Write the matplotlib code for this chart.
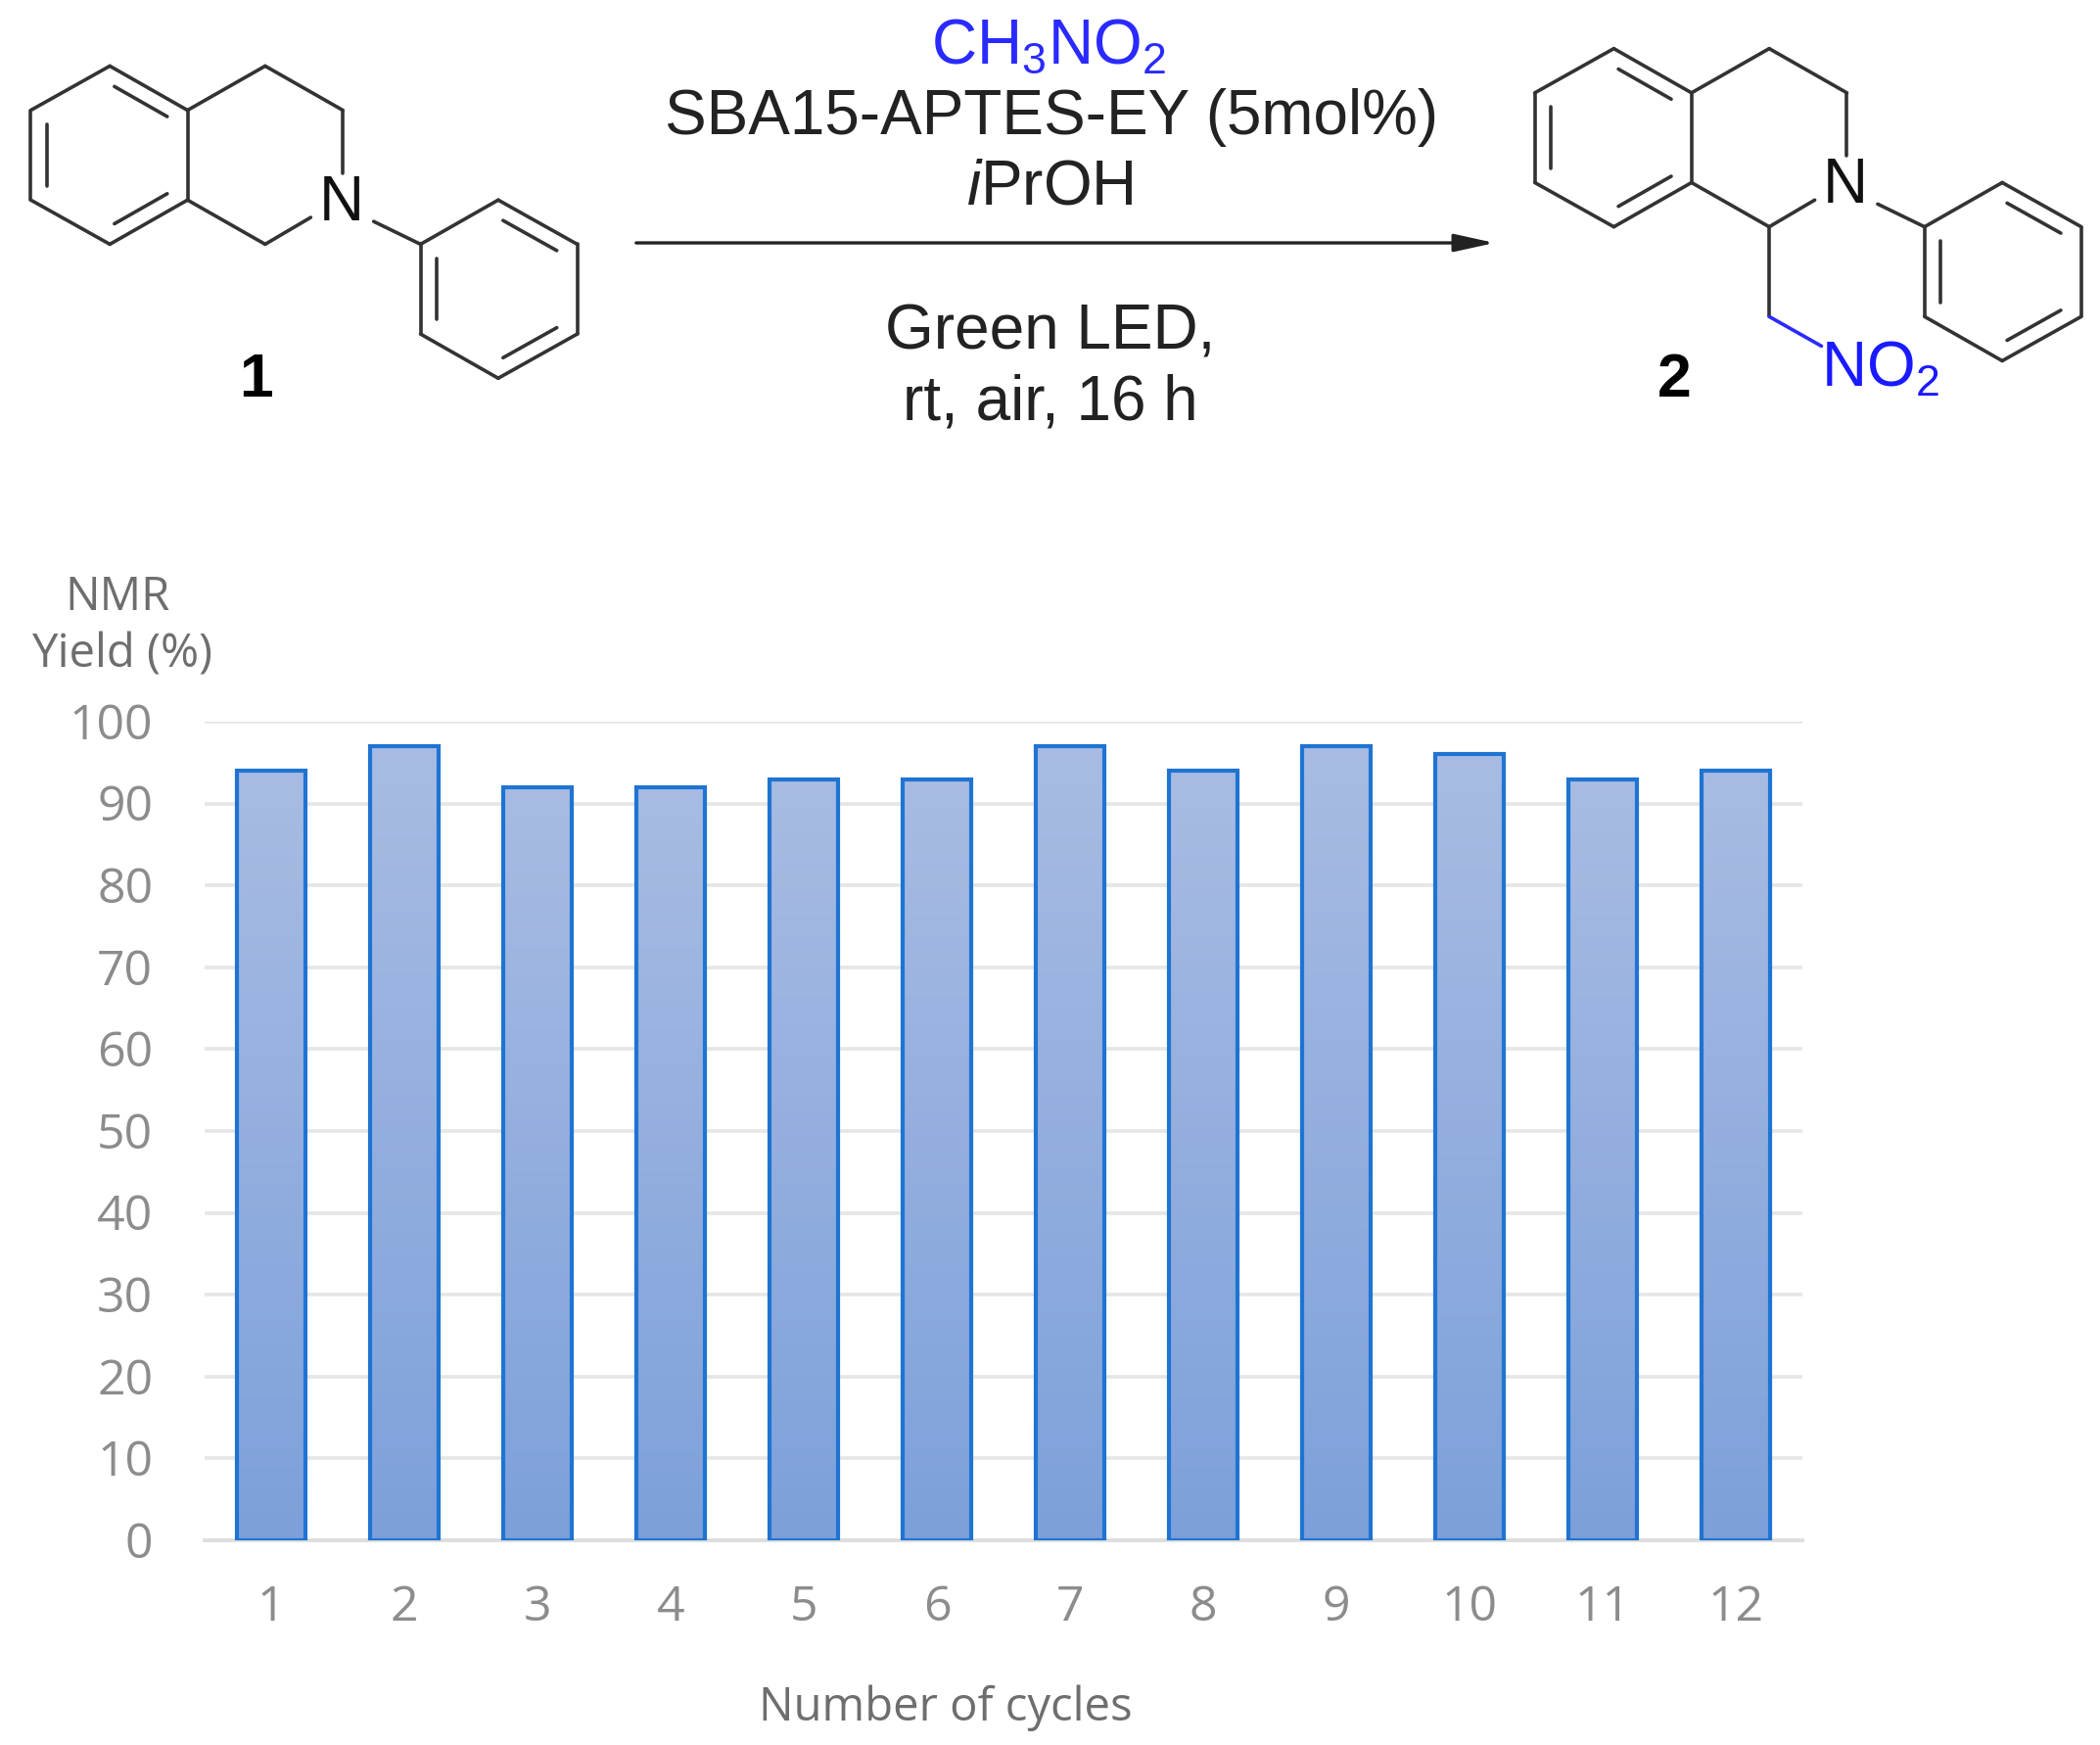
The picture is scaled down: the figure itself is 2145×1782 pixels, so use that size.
import matplotlib
matplotlib.use("Agg")
import matplotlib.pyplot as plt
import matplotlib.transforms as mtrans
import numpy as np
from matplotlib.patches import Rectangle

plt.rcParams['mathtext.fontset'] = 'custom'
plt.rcParams['mathtext.rm'] = 'Liberation Sans'
plt.rcParams['mathtext.it'] = 'Liberation Sans:italic'

# chart data
cycles = ["1", "2", "3", "4", "5", "6", "7", "8", "9", "10", "11", "12"]
yields = [94, 97, 92, 92, 93, 93, 97, 94, 97, 96, 93, 94]
yticks = [0, 10, 20, 30, 40, 50, 60, 70, 80, 90, 100]

W, H = 2145, 1783
fig = plt.figure(figsize=(W / 100, H / 100), dpi=100, facecolor="white")

# bar chart
ax = fig.add_axes([209 / W, 1 - 1574 / H, (1841 - 209) / W, (1574 - 738) / H])
x = np.arange(len(cycles))
ax.set_xlim(-0.5, len(cycles) - 0.5)
ax.set_ylim(0, 100)
ax.set_yticks(yticks)
ax.set_xticks(x)
ax.set_xticklabels(cycles)
ax.grid(axis="y", color="#e6e6e6", lw=2.6, zorder=0)
ax.set_axisbelow(True)
for s in ["top", "right", "left"]:
    ax.spines[s].set_visible(False)
ax.spines["bottom"].set_color("#dedede")
ax.spines["bottom"].set_linewidth(2.8)
ax.tick_params(axis="both", length=0, labelcolor="#8c8c8c")
ax.tick_params(axis="y", pad=38)
ax.tick_params(axis="x", pad=31)
for t in ax.get_xticklabels() + ax.get_yticklabels():
    t.set_fontfamily("Open Sans")
    t.set_fontsize(36)
# y labels sit a touch above their gridlines
up = mtrans.ScaledTranslation(0, 2 / 100, fig.dpi_scale_trans)
for t in ax.get_yticklabels():
    t.set_transform(t.get_transform() + up)

# bars with the vertical gradient
grad = np.linspace(0, 1, 256).reshape(-1, 1, 1)
top = np.array([0xa8, 0xbc, 0xe3]) / 255
bottom = np.array([0x7d, 0xa0, 0xda]) / 255
bars = ax.bar(x, yields, width=0.51, facecolor="none", edgecolor="#1f74d2", lw=3.0, zorder=3)
for b in bars:
    bx, bw, bh = b.get_x(), b.get_width(), b.get_height()
    img = top + (bottom - top) * grad
    im = ax.imshow(img, extent=[bx, bx + bw, 0, bh], aspect="auto", zorder=2)
    im.set_clip_path(Rectangle((bx, 0), bw, bh, transform=ax.transData))
ax.set_xlim(-0.5, len(cycles) - 0.5)
ax.set_ylim(0, 100)

# overlay in the coordinates of the shrunk picture, for scheme and free labels
ov = fig.add_axes([0, 0, 1, 1], facecolor="none")
ov.set_xlim(0, 1568)
ov.set_ylim(1303, 0)
ov.axis("off")

ov.text(88, 446, "NMR", ha="center", va="center", family="Open Sans", fontsize=34, color="#6e6e6e")
ov.text(91, 489, "Yield (%)", ha="center", va="center", family="Open Sans", fontsize=34, color="#6e6e6e")
ov.text(706, 1275, "Number of cycles", ha="center", va="center", family="Open Sans", fontsize=34, color="#6e6e6e")

# reaction scheme
def bond(p, q, dx=0, dy=0, color="#333333"):
    ov.plot([p[0] + dx, q[0] + dx], [p[1] + dy, q[1] + dy], color=color, lw=2.6, solid_capstyle="round")

def ring(pts, doubles, dx, dy):
    pts = np.array(pts, dtype=float)
    c = pts.mean(axis=0)
    for i in range(len(pts)):
        bond(pts[i], pts[(i + 1) % len(pts)], dx, dy)
    for i in doubles:
        a = c + 0.8 * (pts[i] - c)
        b = c + 0.8 * (pts[(i + 1) % len(pts)] - c)
        m = (a + b) / 2
        bond(m + 0.85 * (a - m), m + 0.85 * (b - m), dx, dy)

benzo = [(82, 50), (140, 83), (140, 150), (82, 183), (23, 150), (23, 83)]
phenyl = [(314, 183), (372, 150), (431, 183), (431, 250), (372, 283), (314, 250)]

def molecule(dx, dy):
    ring(benzo, [0, 2, 4], dx, dy)
    ring(phenyl, [1, 3, 5], dx, dy)
    bond((140, 83), (198, 50), dx, dy)
    bond((198, 50), (256, 83), dx, dy)
    bond((256, 83), (256, 130), dx, dy)
    bond((140, 150), (198, 183), dx, dy)
    bond((198, 183), (232, 163), dx, dy)
    bond((279, 166), (314, 183), dx, dy)
    ov.text(255 + dx, 152 + dy, "N", ha="center", va="center", family="Liberation Sans", fontsize=46, color="#111111")

molecule(0, 0)
molecule(1123, -13)
bond((1321, 170), (1321, 237))
bond((1321, 237), (1360, 259), color="#2a2aff")

ov.text(1404, 276, r"NO$_2$", ha="center", va="center", family="Liberation Sans", fontsize=46, color="#1a1aff")
ov.text(191, 284, "1", ha="center", va="center", family="Liberation Sans", weight="bold", fontsize=45, color="black")
ov.text(1250, 284, "2", ha="center", va="center", family="Liberation Sans", weight="bold", fontsize=45, color="black")

ov.annotate("", xy=(1116, 182), xytext=(475, 182),
            arrowprops=dict(arrowstyle="-|>,head_length=2.5,head_width=0.55", color="#222222", lw=2.4,
                            shrinkA=0, shrinkB=0))

ov.text(783, 35, r"CH$_3$NO$_2$", ha="center", va="center", family="Liberation Sans", fontsize=46, color="#2a2aff")
ov.text(785, 88, "SBA15-APTES-EY (5mol%)", ha="center", va="center", family="Liberation Sans", fontsize=46, color="#222222")
ov.text(784, 140, r"$\mathit{i}$PrOH", ha="center", va="center", family="Liberation Sans", fontsize=46, color="#222222")
ov.text(784, 248, "Green LED,", ha="center", va="center", family="Liberation Sans", fontsize=46, color="#222222")
ov.text(784, 301, "rt, air, 16 h", ha="center", va="center", family="Liberation Sans", fontsize=46, color="#222222")

fig.savefig("out.png", dpi=100)
